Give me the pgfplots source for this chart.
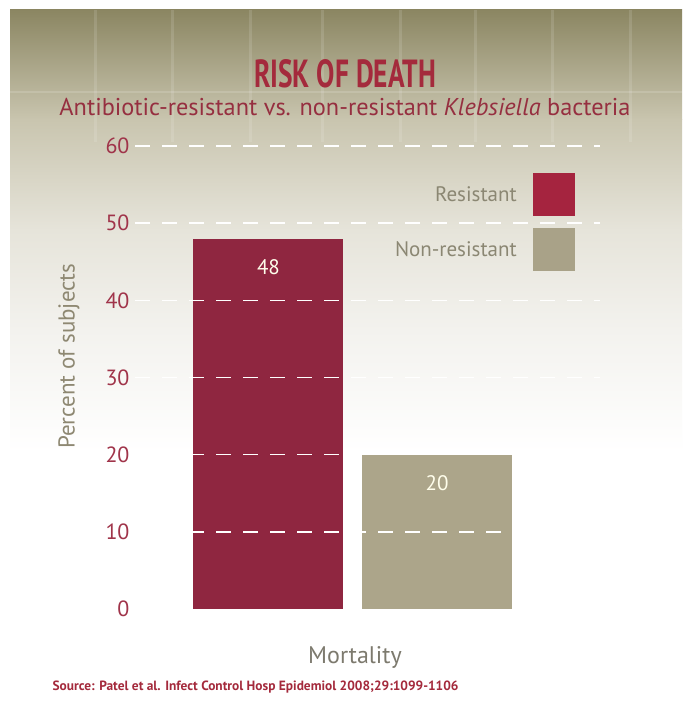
\documentclass[border=0pt]{standalone}
\usepackage{pgfplots}
\pgfplotsset{compat=1.18}
\usepackage{fontspec}
\setmainfont{PT Sans}
\definecolor{resred}{HTML}{8F2640}
\definecolor{resswatch}{HTML}{A5243F}
\definecolor{khaki}{HTML}{ACA58A}
\definecolor{khakiswatch}{HTML}{A9A288}
\definecolor{titlered}{HTML}{A42A3C}
\definecolor{subred}{HTML}{962F40}
\definecolor{tickred}{HTML}{A0344A}
\definecolor{ylabgray}{HTML}{8E8872}
\definecolor{xlabgray}{HTML}{7D7A6E}
\definecolor{leggray}{HTML}{8B8773}
\definecolor{bg1}{HTML}{8B8662}
\definecolor{bg2}{HTML}{C9C5AF}
\definecolor{bg3}{HTML}{E6E4DA}
\definecolor{bg4}{HTML}{F3F2EE}
\newcommand\fs[1]{\fontsize{#1}{1.2\dimexpr#1\relax}\selectfont}

\begin{document}
\begin{tikzpicture}[x=1bp,y=1bp]
% page and background (pixel coords, y measured upward)
\fill[white] (0,0) rectangle (692,702);
\path[use as bounding box] (0,0) rectangle (692,702);
\shade[top color=bg1, bottom color=bg2] (10,692) rectangle (682,582);
\shade[top color=bg2, bottom color=bg3] (10,582.2) rectangle (682,472);
\shade[top color=bg3, bottom color=bg4] (10,472.2) rectangle (682,372);
\shade[top color=bg4, bottom color=white] (10,372.2) rectangle (682,250);
\foreach \xx in {95,172,250,322,400,475,552,630}
  \draw[white, opacity=0.12, line width=3bp] (\xx,692) -- (\xx,560);
\draw[white, opacity=0.15, line width=2bp] (10,610) -- (682,610);

% titles
\node[text=titlered] at (345,628) {\resizebox{182bp}{28bp}{\bfseries RISK OF DEATH}};
\node[text=subred] at (345,595) {\resizebox{571bp}{!}{\fs{22bp}Antibiotic-resistant vs. non-resistant \textit{Klebsiella} bacteria}};
\node[text=titlered, anchor=west] at (49,15) {\resizebox{406bp}{!}{\fs{13bp}\bfseries Source: Patel et al. Infect Control Hosp Epidemiol 2008;29:1099-1106}};

\begin{axis}[
    at={(135bp,93bp)}, anchor=south west,
    scale only axis, width=465bp, height=463bp,
    xmin=-0.792, xmax=1.967, ymin=0, ymax=60,
    ybar, bar shift=0pt, bar width=0.89,
    axis line style={draw=none}, tick style={draw=none}, axis on top,
    xtick=\empty, ytick={10,20,...,60},
    extra y ticks={0}, extra y tick style={grid=none},
    ymajorgrids, major tick length=0pt,
    grid style={white, line width=1.6bp, dash pattern=on 15bp off 12bp},
    /pgf/number format/assume math mode=true,
    yticklabel style={text=tickred, font=\fs{22bp}, xshift=-2bp},
    ylabel={Percent of subjects},
    ylabel style={at={(axis description cs:-0.142,0.546)}, anchor=center, text=ylabgray, font=\fs{23bp}},
    xlabel={Mortality},
    xlabel style={at={(axis description cs:0.473,-0.104)}, anchor=center, text=xlabgray, font=\fs{24bp}},
    nodes near coords,
    nodes near coords style={anchor=north, yshift=-17bp, text=white!92!yellow, font=\fs{21bp},
      /pgf/number format/assume math mode=true},
    legend style={at={(axis description cs:0.946,0.9417)}, anchor=north east,
      draw=none, fill=none, inner sep=0pt, row sep=12bp, column sep=0pt,
      font=\fs{21bp}, text=leggray,
      nodes={inner sep=2bp, outer sep=0pt}},
    legend cell align=right, legend plot pos=right,
    swatch/.style={legend image code/.code={\fill[#1, draw=none] (-4bp,-21.5bp) rectangle (38bp,21.5bp);}},
]
\addplot[fill=resred, draw=none, swatch={fill=resswatch}] coordinates {(0,48)};
\addplot[fill=khaki, draw=none, swatch={fill=khakiswatch}] coordinates {(1,20)};
\legend{Resistant\hspace*{14bp}, Non-resistant\hspace*{14bp}}
\end{axis}
\end{tikzpicture}
\end{document}
